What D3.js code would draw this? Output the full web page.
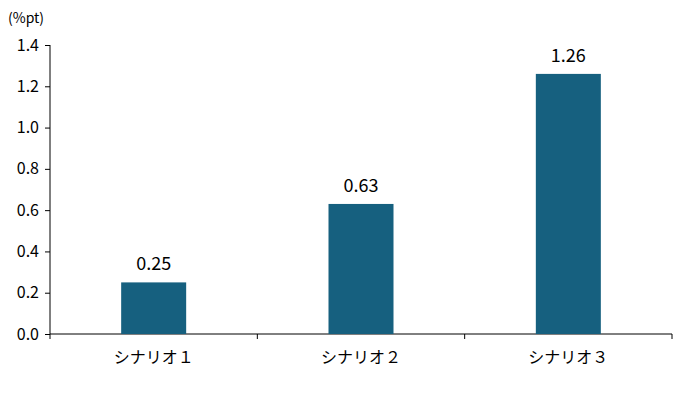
<!DOCTYPE html>
<html><head><meta charset="utf-8">
<script src="https://cdn.jsdelivr.net/npm/d3@7"></script>
<style>body{margin:0;background:#fff}text{font-family:"Noto Sans CJK JP","DejaVu Sans",sans-serif;fill:#000}</style>
</head><body><div id="chart"></div>
<script>
const categories = ["シナリオ１", "シナリオ２", "シナリオ３"];
const values = [0.25, 0.63, 1.26];
const yTicks = [0, 0.2, 0.4, 0.6, 0.8, 1.0, 1.2, 1.4];

const W = 678, H = 401;
const margin = {top: 45, right: 6, bottom: 67, left: 50};
const svg = d3.select("#chart").append("svg").attr("width", W).attr("height", H);
const g = svg.append("g").attr("transform", `translate(${margin.left},${margin.top})`);
const w = W - margin.left - margin.right, h = H - margin.top - margin.bottom;

const x = d3.scaleBand().domain(categories).range([0, w]);
const y = d3.scaleLinear().domain([0, 1.4]).range([h, 0]);

const yAxis = g.append("g").call(d3.axisLeft(y).tickValues(yTicks).tickFormat(d3.format(".1f")).tickSize(5).tickPadding(6));
yAxis.selectAll("text").style("font-size", "16px");
yAxis.selectAll("line,path").attr("stroke", "#000");
yAxis.select("path").attr("d", `M0,0V${h}`);

const xAxis = g.append("g").attr("transform", `translate(0,${h})`)
  .call(d3.axisBottom(x).tickSize(0).tickPadding(18));
xAxis.selectAll("text").style("font-size", "16px");
xAxis.select("path").attr("stroke", "#000").attr("d", `M0,0H${w}`);
[0, 1, 2, 3].forEach(i => g.append("line").attr("x1", i * x.step()).attr("x2", i * x.step())
  .attr("y1", h).attr("y2", h + 5).attr("stroke", "#000"));

const bw = 65;
g.selectAll("rect").data(values).enter().append("rect")
  .attr("x", (d, i) => x(categories[i]) + x.bandwidth() / 2 - bw / 2)
  .attr("width", bw).attr("y", d => y(d)).attr("height", d => h - y(d))
  .attr("fill", "#16607f");
g.selectAll(".lbl").data(values).enter().append("text")
  .attr("x", (d, i) => x(categories[i]) + x.bandwidth() / 2)
  .attr("y", d => y(d) - 12).attr("text-anchor", "middle").style("font-size", "18px")
  .text(d => d.toFixed(2));

svg.append("text").attr("x", 8).attr("y", 23).style("font-size", "14px").text("(%pt)");
</script></body></html>
